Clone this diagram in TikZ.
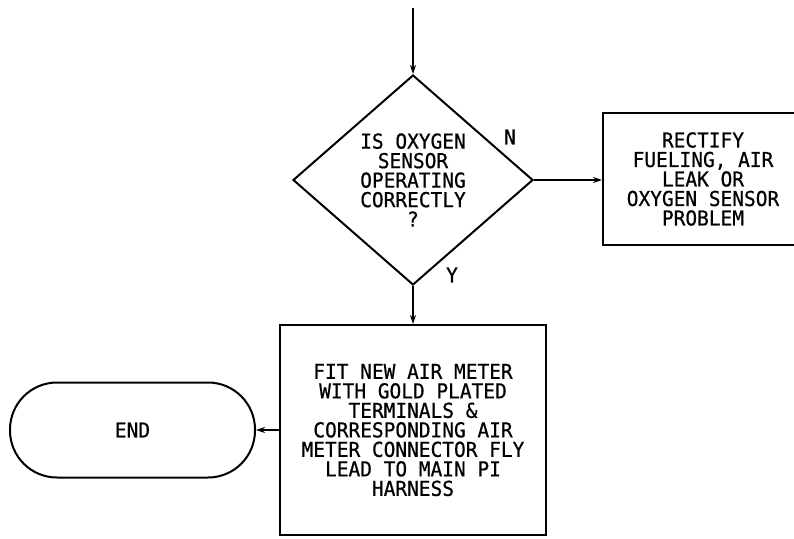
\documentclass[tikz,border=0pt]{standalone}
\usepackage{fontspec}
\newfontfamily\plotfont[FakeStretch=0.95,FakeBold=0.6]{DejaVu Sans Mono}
\usetikzlibrary{shapes.geometric,arrows.meta}
\begin{document}
\begin{tikzpicture}[x=1pt,y=-1pt,
  every node/.style={font=\plotfont\fontsize{20.5}{19.5}\selectfont},
  line/.style={line width=2pt},
  arr/.style={line, -{Stealth[length=9pt,width=6pt]}},
  box/.style={draw, line width=2pt, rectangle, align=center, inner sep=0pt},
  decision/.style={draw, line width=2pt, diamond, aspect=1.14, align=center,
    inner sep=0pt, minimum width=240pt, minimum height=210pt},
  terminal/.style={draw, line width=2pt, rectangle, rounded corners=47pt,
    minimum width=245pt, minimum height=95pt, inner sep=0pt},
  lbl/.style={inner sep=0pt}]
\clip (0,0) rectangle (794,538);
\fill[white] (0,0) rectangle (794,538);
\coordinate (start) at (413,8);
\node[decision] (d) at (413,180) {IS OXYGEN\\SENSOR\\OPERATING\\CORRECTLY\\?};
\node[box, minimum width=200pt, minimum height=132pt] (r) at (703,179)
  {RECTIFY\\FUELING, AIR\\LEAK OR\\OXYGEN SENSOR\\PROBLEM};
\node[box, minimum width=266pt, minimum height=210pt] (f) at (413,430)
  {FIT NEW AIR METER\\WITH GOLD PLATED\\TERMINALS \&\\CORRESPONDING AIR\\METER CONNECTOR FLY\\LEAD TO MAIN PI\\HARNESS};
\node[terminal] (e) at (132.5,430) {END};
\node[lbl] (n) at (510,137) {N};
\node[lbl] (y) at (452,275) {Y};
\draw[arr] (start) -- (d.north);
\draw[arr] (d.east) -- (r.west |- d.east);
\draw[arr] (d.south) -- (f.north);
\draw[arr] (f.west) -- (e.east);
\end{tikzpicture}
\end{document}
